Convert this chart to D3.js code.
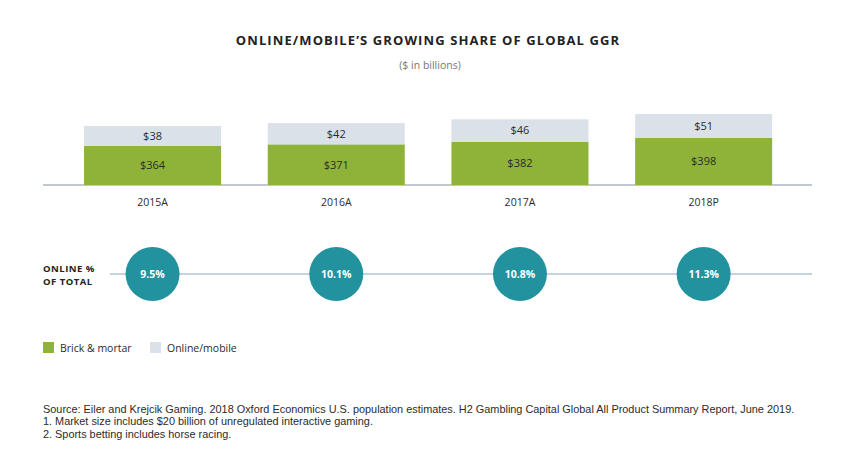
<!DOCTYPE html>
<html><head><meta charset="utf-8">
<script src="https://cdn.jsdelivr.net/npm/d3@7"></script>
<style>
html,body{margin:0;padding:0;background:#fff;}
svg{display:block;font-family:"Open Sans","Lato",sans-serif;}
</style></head>
<body>
<svg id="chart" width="856" height="475"></svg>
<script>
const categories = ["2015A","2016A","2017A","2018P"];
const brickMortar = [364,371,382,398];
const onlineMobile = [38,42,46,51];
const onlinePct = ["9.5%","10.1%","10.8%","11.3%"];
const seriesNames = ["Brick & mortar","Online/mobile"];
const rowLabel = ["ONLINE %","OF TOTAL"];
const footnotes = [
 "Source: Eiler and Krejcik Gaming. 2018 Oxford Economics U.S. population estimates. H2 Gambling Capital Global All Product Summary Report, June 2019.",
 "1. Market size includes $20 billion of unregulated interactive gaming.",
 "2. Sports betting includes horse racing."
];

const C = {green:"#8fb339", light:"#dbe1e8", base:"#adb6c4", teal:"#21929e", text:"#2b2b2b", line:"#b6c2d6"};
const svg = d3.select("#chart");
const data = categories.map((c,i)=>({cat:c, brick:brickMortar[i], online:onlineMobile[i], pct:onlinePct[i]}));

// title
svg.append("text").attr("x",428).attr("y",45).attr("text-anchor","middle")
  .attr("font-size",13).attr("font-weight",700).attr("fill","#222").attr("letter-spacing","1.1")
  .text("ONLINE/MOBILE\u2019S GROWING SHARE OF GLOBAL GGR");
svg.append("text").attr("x",430).attr("y",69).attr("text-anchor","middle")
  .attr("font-size",10.5).attr("fill","#777").text("($ in billions)");

const x = d3.scaleBand().domain(categories).range([60.7,795.5]).paddingInner(0.254).paddingOuter(0.127);
const baseY = 185;
const yB = d3.scaleLinear().domain([198,398]).range([baseY,138]);
const hO = d3.scaleLinear().domain([-27,51]).range([0,24]);

// baseline
svg.append("line").attr("x1",43).attr("x2",812).attr("y1",baseY).attr("y2",baseY)
  .attr("stroke",C.base).attr("stroke-width",1.5);

const g = svg.append("g");
const bars = g.selectAll("g.bar").data(data).join("g").attr("class","bar");
bars.append("rect").attr("x",d=>x(d.cat)).attr("width",x.bandwidth())
  .attr("y",d=>yB(d.brick)).attr("height",d=>baseY-yB(d.brick)).attr("fill",C.green);
bars.append("rect").attr("x",d=>x(d.cat)).attr("width",x.bandwidth())
  .attr("y",d=>yB(d.brick)-hO(d.online)).attr("height",d=>hO(d.online)).attr("fill",C.light);
bars.append("text").attr("x",d=>x(d.cat)+x.bandwidth()/2)
  .attr("y",d=>(yB(d.brick)+baseY)/2).attr("dy","0.35em").attr("text-anchor","middle")
  .attr("font-size",11).attr("fill",C.text).text(d=>"$"+d.brick);
bars.append("text").attr("x",d=>x(d.cat)+x.bandwidth()/2)
  .attr("y",d=>yB(d.brick)-hO(d.online)/2).attr("dy","0.35em").attr("text-anchor","middle")
  .attr("font-size",11).attr("fill",C.text).text(d=>"$"+d.online);

// category axis
const ax = svg.append("g").attr("transform",`translate(0,${baseY})`)
  .call(d3.axisBottom(x).tickSize(0).tickPadding(14));
ax.select(".domain").remove();
ax.selectAll("text").attr("font-size",10.5).attr("fill",C.text).attr("font-family","'Open Sans',sans-serif");

// online % row
const rowY = 274;
svg.append("line").attr("x1",110).attr("x2",812).attr("y1",rowY).attr("y2",rowY)
  .attr("stroke",C.line).attr("stroke-width",1.5);
svg.selectAll("text.rowlab").data(rowLabel).join("text").attr("class","rowlab")
  .attr("x",43).attr("y",(d,i)=>272+i*13).attr("font-size",9.5).attr("font-weight",700)
  .attr("fill","#222").attr("letter-spacing","0.5").text(d=>d);
const circ = svg.selectAll("g.circ").data(data).join("g").attr("class","circ")
  .attr("transform",d=>`translate(${x(d.cat)+x.bandwidth()/2},${rowY})`);
circ.append("circle").attr("r",27).attr("fill",C.teal);
circ.append("text").attr("text-anchor","middle").attr("dy","0.35em").attr("font-size",10.5)
  .attr("font-weight",700).attr("fill","#fff").text(d=>d.pct);

// legend
const legX = [43,150];
const colors = [C.green, C.light];
const leg = svg.selectAll("g.leg").data(seriesNames).join("g").attr("class","leg")
  .attr("transform",(d,i)=>`translate(${legX[i]},342)`);
leg.append("rect").attr("width",11).attr("height",11).attr("fill",(d,i)=>colors[i]);
leg.append("text").attr("x",17).attr("y",9.5).attr("font-size",10.5).attr("fill",C.text).text(d=>d);

// footnotes
svg.selectAll("text.fn").data(footnotes).join("text").attr("class","fn")
  .attr("x",43).attr("y",(d,i)=>413+i*12.3).attr("font-size",10.9).attr("fill",C.text)
  .attr("font-family","'Liberation Sans',sans-serif").text(d=>d);
</script>
</body></html>
